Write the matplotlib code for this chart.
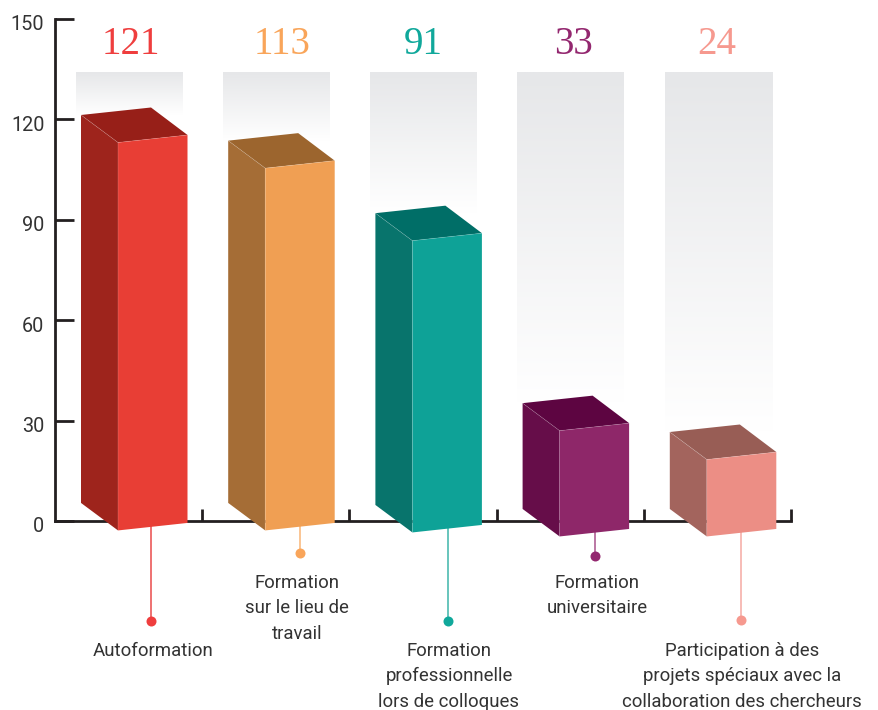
import numpy as np
import matplotlib
matplotlib.use('Agg')
import matplotlib.pyplot as plt
from matplotlib.colors import LinearSegmentedColormap
from matplotlib.patches import Polygon
from matplotlib.transforms import ScaledTranslation

# 数据
categories = ['Autoformation', 'Formation\nsur le lieu de\ntravail',
              'Formation\nprofessionnelle\nlors de colloques',
              'Formation\nuniversitaire',
              'Participation à des\nprojets spéciaux avec la\ncollaboration des chercheurs']
values = [121, 113, 91, 33, 24]
y_ticks = [0, 30, 60, 90, 120, 150]

# 颜色
front_colors = ['#e83e35', '#f09f53', '#0ea297', '#8e2769', '#ec8e85']
side_colors = ['#9e241c', '#a56d36', '#08746c', '#660d49', '#a3645d']
top_colors = ['#971f18', '#9c652e', '#006e67', '#5d0541', '#985d55']
accent_colors = ['#ef3e3e', '#f9a55a', '#10a89b', '#93276f', '#f6998f']
leader_colors = ['#ea4a4a', '#f9b577', '#3fb5aa', '#a8528b', '#f5aaa3']

# 版面 (像素)
W, H = 879, 710
AX_LEFT, AX_RIGHT, AX_TOP, AX_BOTTOM = 55, 791, 19, 521
PX_X = 5 / (AX_RIGHT - AX_LEFT)
PX_Y = 150 / (AX_BOTTOM - AX_TOP)
BAR_SCALE = 0.958                     # 柱高相对坐标轴的比例
bar_bases = [5.4, 5.4, 4.8, 3.6, 3.6]  # 柱子后下角的高度
leader_x_px = [151.5, 300, 448, 595, 741]
dot_y_px = [621, 553, 621, 556, 620]
value_x_px = [131, 282, 423, 573, 717]
label_x_px = [153.5, 297, 449, 597, 742]
label_y_px = [642, 574, 642, 574, 642]

plt.rcParams['font.family'] = ['Roboto', 'DejaVu Sans']

fig = plt.figure(figsize=(W / 100, H / 100), dpi=100)
ax = fig.add_axes([AX_LEFT / W, 1 - AX_BOTTOM / H,
                   (AX_RIGHT - AX_LEFT) / W, (AX_BOTTOM - AX_TOP) / H])

panel_cmap = LinearSegmentedColormap.from_list('panel', ['#ffffff', '#e6e7e9'])
gradient = np.linspace(1, 0, 256).reshape(-1, 1)


def px_x(px):
    return (px - AX_LEFT) * PX_X


def px_y(px):
    return (AX_BOTTOM - px) * PX_Y


for i, value in enumerate(values):
    x0 = i + 20.8 * PX_X
    top = bar_bases[i] + value * BAR_SCALE
    base = bar_bases[i]

    # 灰色渐变背景
    ax.imshow(gradient, cmap=panel_cmap, vmin=0, vmax=1, aspect='auto', zorder=1,
              extent=(x0, x0 + 107 * PX_X, top, px_y(72.4)))

    # 立方体三个面
    xl = x0 + 5.2 * PX_X
    xf = xl + 37 * PX_X
    xr = xl + 106.5 * PX_X
    xb = xl + 70 * PX_X
    dy_f = 27.5 * PX_Y
    dy_r = 20 * PX_Y
    dy_b = 7.5 * PX_Y

    side = [(xl, top), (xf, top - dy_f), (xf, base - dy_f), (xl, base)]
    front = [(xf, top - dy_f), (xr, top - dy_r), (xr, base - dy_r), (xf, base - dy_f)]
    roof = [(xl, top), (xb, top + dy_b), (xr, top - dy_r), (xf, top - dy_f)]
    ax.add_patch(Polygon(side, fc=side_colors[i], ec='none', zorder=3, clip_on=False))
    ax.add_patch(Polygon(roof, fc=top_colors[i], ec='none', zorder=3, clip_on=False))
    ax.add_patch(Polygon(front, fc=front_colors[i], ec='none', zorder=3, clip_on=False))

    # 面之间的细亮线
    ax.plot([xl, xf, xf], [top, top - dy_f, base - dy_f], color='white', alpha=0.2,
            lw=0.5, zorder=3.5, clip_on=False)
    ax.plot([xf, xr], [top - dy_f, top - dy_r], color='white', alpha=0.2,
            lw=0.5, zorder=3.5, clip_on=False)

    # 引线和圆点
    xc = px_x(leader_x_px[i])
    dot_y = px_y(dot_y_px[i])
    ax.plot([xc, xc], [base - dy_f + 6 * PX_Y, dot_y], color=leader_colors[i], lw=1.1,
            zorder=2, clip_on=False, solid_capstyle='butt')
    ax.plot([xc], [dot_y], 'o', color=accent_colors[i], ms=7.2, mew=0,
            zorder=2.5, clip_on=False)

    # 数值和类别标签
    ax.text(px_x(value_x_px[i]), px_y(45), str(value), color=accent_colors[i],
            family=['Liberation Serif', 'DejaVu Serif'], fontsize=28,
            ha='center', va='center', clip_on=False)
    ax.text(px_x(label_x_px[i]), px_y(label_y_px[i]), categories[i], color='#333333',
            fontsize=13.4, ha='center', va='top', linespacing=1.52,
            multialignment='center', clip_on=False)

ax.set_xlim(0, 5)
ax.set_ylim(0, 150)

# 坐标轴
for name in ['top', 'right']:
    ax.spines[name].set_visible(False)
for name in ['left', 'bottom']:
    ax.spines[name].set_linewidth(2.0)
    ax.spines[name].set_color('#231f20')

ax.set_xticks(range(1, 6))
ax.set_xticklabels([])
ax.set_yticks(y_ticks)
ax.tick_params(axis='x', direction='in', length=9, width=2.0, color='#231f20')
ax.tick_params(axis='y', direction='in', length=14, width=2.0, color='#231f20',
               labelsize=14.3, labelcolor='#333333', pad=7.7)
for tick in ax.get_yticklabels():
    tick.set_transform(tick.get_transform()
                       + ScaledTranslation(0, -4 / 100, fig.dpi_scale_trans))

fig.savefig('out.png', dpi=100)
